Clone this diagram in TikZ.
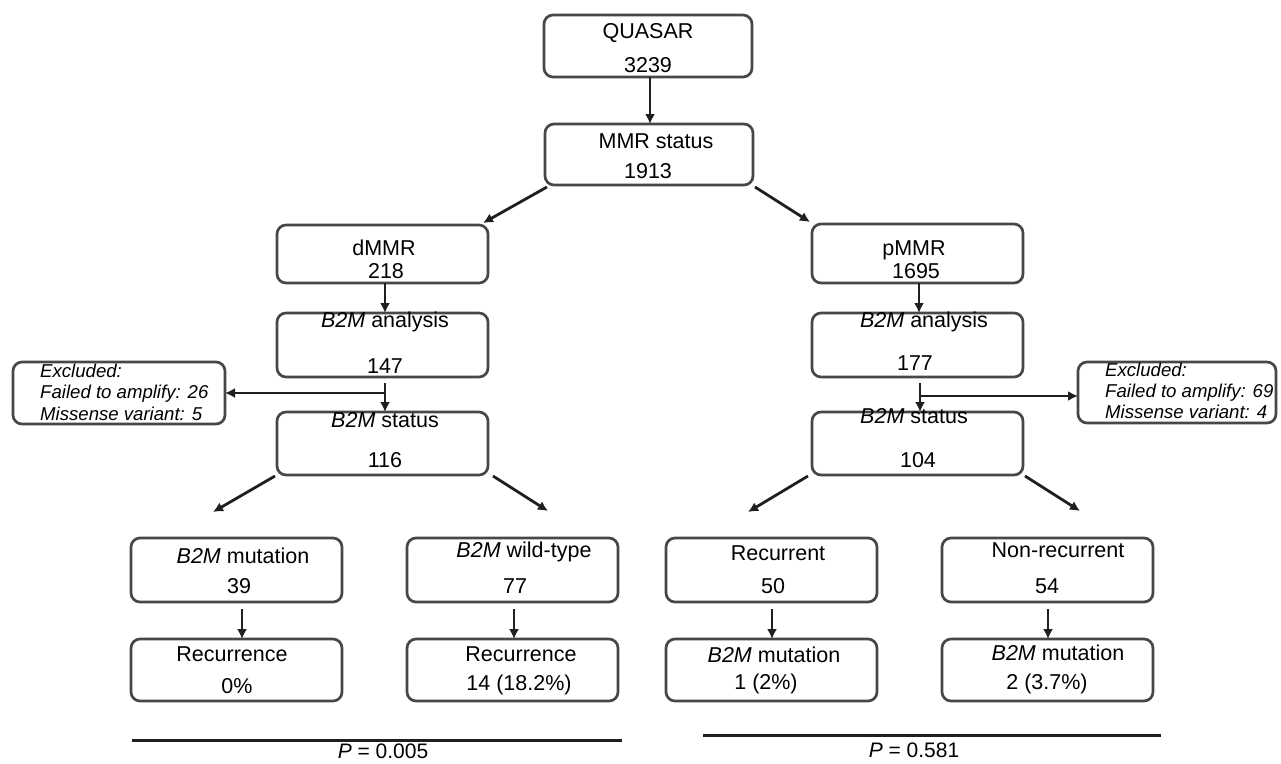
\documentclass[tikz,border=0pt]{standalone}
\usepackage{fontspec}
\setmainfont{Liberation Sans}
\usetikzlibrary{arrows.meta,calc}
\begin{document}
\begin{tikzpicture}[x=1pt,y=-1pt,
  box/.style={draw=black!72, line width=2.7pt, rounded corners=9pt, anchor=north west, inner sep=0pt, outer sep=0pt},
  arr/.style={draw=black!88, line width=2.8pt, -{Latex[length=10pt,width=10pt]}},
  plain/.style={draw=black!88, line width=3pt},
  txt/.style={font=\fontsize{21.5}{24}\selectfont, anchor=base, inner sep=0pt},
  exc/.style={font=\fontsize{18.6}{22}\selectfont\itshape, anchor=base west, inner sep=0pt},
  pval/.style={font=\fontsize{21}{24}\selectfont, anchor=base, inner sep=0pt}]
\useasboundingbox (0,0) rectangle (1281,763);
% boxes
\node[box, minimum width=208pt, minimum height=62pt] (quasar) at (544,15) {};
\node[box, minimum width=208pt, minimum height=61pt] (mmr) at (545,124) {};
\node[box, minimum width=211pt, minimum height=58pt] (dmmr) at (277,225) {};
\node[box, minimum width=211pt, minimum height=64pt] (lana) at (277,313) {};
\node[box, minimum width=211pt, minimum height=63pt] (lst) at (277,412) {};
\node[box, minimum width=211pt, minimum height=59pt] (pmmr) at (812,224) {};
\node[box, minimum width=211pt, minimum height=64pt] (rana) at (812,313) {};
\node[box, minimum width=211pt, minimum height=63pt] (rst) at (812,412) {};
\node[box, minimum width=212pt, minimum height=62pt] (lexc) at (13,362) {};
\node[box, minimum width=198pt, minimum height=61pt] (rexc) at (1078,362) {};
\node[box, minimum width=211pt, minimum height=64pt] (lmut) at (131,538) {};
\node[box, minimum width=211pt, minimum height=64pt] (lwt) at (407,538) {};
\node[box, minimum width=211pt, minimum height=62pt] (lrec1) at (131,639) {};
\node[box, minimum width=211pt, minimum height=62pt] (lrec2) at (407,639) {};
\node[box, minimum width=211pt, minimum height=64pt] (rrec) at (666,538) {};
\node[box, minimum width=211pt, minimum height=64pt] (rnon) at (942,538) {};
\node[box, minimum width=211pt, minimum height=62pt] (rmut1) at (666,639) {};
\node[box, minimum width=211pt, minimum height=62pt] (rmut2) at (942,639) {};
% texts
\node[txt] (t1a) at (648,38) {QUASAR};
\node[txt] (t1b) at (648,72) {3239};
\node[txt] (t2a) at (656,148) {MMR status};
\node[txt] (t2b) at (648,178) {1913};
\node[txt] (t3a) at (384,255) {dMMR};
\node[txt] (t3b) at (386,278) {218};
\node[txt] (t4a) at (385,327) {\textit{B2M} analysis};
\node[txt] (t4b) at (385,373) {147};
\node[txt] (t5a) at (385,427) {\textit{B2M} status};
\node[txt] (t5b) at (385,467) {116};
\node[txt] (t6a) at (914,255) {pMMR};
\node[txt] (t6b) at (916,278) {1695};
\node[txt] (t7a) at (924,327) {\textit{B2M} analysis};
\node[txt] (t7b) at (915,370) {177};
\node[txt] (t8a) at (914,423) {\textit{B2M} status};
\node[txt] (t8b) at (918,467) {104};
\node[exc] (e1a) at (40,377) {Excluded:};
\node[exc] (e1b) at (40,398) {Failed to amplify: 26};
\node[exc] (e1c) at (40,420) {Missense variant: 5};
\node[exc] (e2a) at (1105,376) {Excluded:};
\node[exc] (e2b) at (1105,397) {Failed to amplify: 69};
\node[exc] (e2c) at (1105,418) {Missense variant: 4};
\node[txt] (t9a) at (243,563) {\textit{B2M} mutation};
\node[txt] (t9b) at (239,593) {39};
\node[txt] (t10a) at (524,557) {\textit{B2M} wild-type};
\node[txt] (t10b) at (515,593) {77};
\node[txt] (t11a) at (232,661) {Recurrence};
\node[txt] (t11b) at (237,693) {0\%};
\node[txt] (t12a) at (521,661) {Recurrence};
\node[txt] (t12b) at (519,690) {14 (18.2\%)};
\node[txt] (t13a) at (778,560) {Recurrent};
\node[txt] (t13b) at (773,593) {50};
\node[txt] (t14a) at (1058,557) {Non-recurrent};
\node[txt] (t14b) at (1047,593) {54};
\node[txt] (t15a) at (774,662) {\textit{B2M} mutation};
\node[txt] (t15b) at (766,689) {1 (2\%)};
\node[txt] (t16a) at (1058,660) {\textit{B2M} mutation};
\node[txt] (t16b) at (1047,689) {2 (3.7\%)};
\node[pval] (p1) at (383,758) {\textit{P} = 0.005};
\node[pval] (p2) at (914,757) {\textit{P} = 0.581};
% coordinates
\coordinate (m1) at (547,187);
\coordinate (m2) at (483,223);
\coordinate (m3) at (755,187);
\coordinate (m4) at (810,222);
\coordinate (la1) at (385,383);
\coordinate (la2) at (385,393);
\coordinate (ra1) at (920,383);
\coordinate (ra2) at (920,396);
\coordinate (ls1) at (275,476);
\coordinate (ls2) at (213,512);
\coordinate (ls3) at (493,476);
\coordinate (ls4) at (548,511);
\coordinate (rs1) at (808,476);
\coordinate (rs2) at (748,512);
\coordinate (rs3) at (1025,476);
\coordinate (rs4) at (1080,511);
\coordinate (v1) at (242,609);
\coordinate (v2) at (514,609);
\coordinate (v3) at (772,609);
\coordinate (v4) at (1048,609);
\coordinate (pl1) at (132,740);
\coordinate (pl2) at (622,740);
\coordinate (pr1) at (703,735);
\coordinate (pr2) at (1161,735);
% connectors
\draw[arr] (quasar.south -| 650,0) -- (mmr.north -| 650,0);
\draw[arr] (m1) -- (m2);
\draw[arr] (m3) -- (m4);
\draw[arr] (dmmr.south -| 385,0) -- (lana.north -| 385,0);
\draw[arr] (pmmr.south -| 919,0) -- (rana.north -| 919,0);
\draw[arr] (la1) -- (lst.north -| la1);
\draw[arr] (la2) -- (lexc.east |- la2);
\draw[arr] (ra1) -- (rst.north -| ra1);
\draw[arr] (ra2) -- (rexc.west |- ra2);
\draw[arr] (ls1) -- (ls2);
\draw[arr] (ls3) -- (ls4);
\draw[arr] (rs1) -- (rs2);
\draw[arr] (rs3) -- (rs4);
\draw[arr] (v1) -- (lrec1.north -| v1);
\draw[arr] (v2) -- (lrec2.north -| v2);
\draw[arr] (v3) -- (rmut1.north -| v3);
\draw[arr] (v4) -- (rmut2.north -| v4);
\draw[plain] (pl1) -- (pl2);
\draw[plain] (pr1) -- (pr2);
\end{tikzpicture}
\end{document}
